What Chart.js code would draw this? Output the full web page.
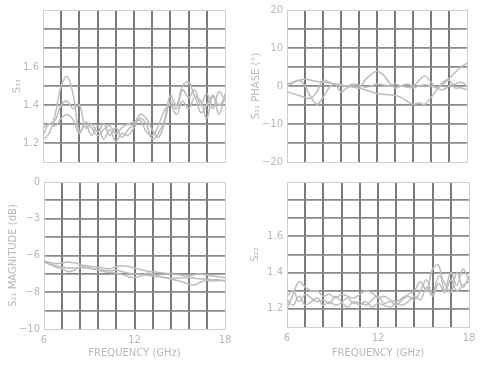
<!DOCTYPE html>
<html>
<head>
<meta charset="utf-8">
<script src="https://cdn.jsdelivr.net/npm/chart.js@4"></script>
<style>
  body { margin: 0; background: #fff; }
  #wrap { position: relative; width: 487px; height: 365px; }
  canvas { position: absolute; }
</style>
</head>
<body>
<div id="wrap">
  <canvas id="s11" width="240" height="172" style="left:0;top:0"></canvas>
  <canvas id="phase" width="244" height="172" style="left:243px;top:0"></canvas>
  <canvas id="mag" width="240" height="193" style="left:0;top:172px"></canvas>
  <canvas id="s22" width="244" height="193" style="left:243px;top:172px"></canvas>
</div>
<script>
// frequency points (GHz)
const freq = [6.0, 6.4, 6.8, 7.2, 7.6, 8.0, 8.4, 8.8, 9.2, 9.6, 10.0, 10.4, 10.8, 11.2, 11.6,
  12.0, 12.4, 12.8, 13.2, 13.6, 14.0, 14.4, 14.8, 15.2, 15.6, 16.0, 16.4, 16.8, 17.2, 17.6, 18.0];

// S11 (VSWR) traces
const s11A = [1.22, 1.25, 1.35, 1.50, 1.55, 1.45, 1.26, 1.30, 1.24, 1.29, 1.22, 1.27, 1.21, 1.25, 1.24,
  1.28, 1.33, 1.30, 1.22, 1.25, 1.32, 1.45, 1.40, 1.50, 1.52, 1.45, 1.42, 1.33, 1.45, 1.40, 1.44];
const s11B = [1.28, 1.30, 1.32, 1.40, 1.42, 1.38, 1.40, 1.28, 1.30, 1.26, 1.30, 1.24, 1.28, 1.23, 1.27,
  1.30, 1.35, 1.33, 1.27, 1.23, 1.30, 1.42, 1.38, 1.48, 1.44, 1.48, 1.40, 1.46, 1.38, 1.47, 1.42];
const s11C = [1.24, 1.30, 1.29, 1.33, 1.35, 1.32, 1.25, 1.31, 1.28, 1.24, 1.27, 1.29, 1.25, 1.28, 1.30,
  1.31, 1.32, 1.26, 1.24, 1.29, 1.37, 1.40, 1.35, 1.42, 1.38, 1.44, 1.36, 1.40, 1.45, 1.35, 1.46];

// S21 phase (deg)
const phA = [0.5, 1.0, 1.5, 1.8, 1.5, 1.2, 1.0, 0.8, 0.5, 0.2, 0, -0.3, -0.5, -1.0, -1.5,
  -2.0, -2.2, -2.3, -2.5, -3.0, -4.0, -4.8, -4.5, -4.8, -3.0, -1.0, 1.0, 2.0, 3.5, 5.0, 6.0];
const phB = [0, 0.8, 1.5, 0, -3.0, -4.8, -3.0, -0.5, 0.5, -1.5, -0.5, 0, -0.5, 1.5, 3.0,
  3.9, 3.0, 1.0, -0.5, 0, 0.5, 0, 1.5, 2.6, 1.0, -0.5, 0.5, 1.5, -0.5, -0.5, -1.0];
const phC = [-1.5, -2.0, -2.5, -3.0, -3.2, -1.5, 1.5, 1.0, 0.5, 0.3, 0, 0.5, 0.2, -0.3, 0,
  0.5, 0.3, 0, 0.5, 0, -0.3, -0.5, 0, 0.3, 0, -0.5, -1.0, 0, 0.5, 1.0, 0];

// S21 magnitude (dB)
const magA = [-5.35, -5.5, -5.55, -5.5, -5.45, -5.5, -5.6, -5.7, -5.75, -5.8, -5.85, -5.9, -5.75, -5.7, -5.75,
  -5.85, -5.95, -6.05, -6.1, -6.15, -6.2, -6.25, -6.3, -6.35, -6.4, -6.3, -6.25, -6.35, -6.4, -6.45, -6.5];
const magB = [-5.4, -5.6, -5.8, -5.9, -6.1, -6.0, -5.75, -5.8, -5.9, -6.0, -6.1, -6.15, -6.2, -6.3, -6.45,
  -6.5, -6.4, -6.2, -6.25, -6.4, -6.5, -6.6, -6.7, -6.8, -6.95, -7.0, -6.8, -6.7, -6.75, -6.7, -6.75];
const magC = [-5.45, -5.6, -5.7, -5.8, -5.85, -5.85, -5.8, -5.85, -5.9, -5.95, -6.0, -6.05, -6.0, -6.1, -6.2,
  -6.25, -6.3, -6.35, -6.4, -6.45, -6.5, -6.55, -6.55, -6.5, -6.5, -6.55, -6.6, -6.6, -6.65, -6.65, -6.7];

// S22 (VSWR)
const s22A = [1.20, 1.28, 1.35, 1.32, 1.30, 1.30, 1.27, 1.28, 1.26, 1.28, 1.27, 1.26, 1.28, 1.30, 1.29,
  1.26, 1.27, 1.25, 1.24, 1.26, 1.28, 1.30, 1.35, 1.30, 1.42, 1.44, 1.30, 1.40, 1.33, 1.42, 1.36];
const s22B = [1.27, 1.30, 1.24, 1.28, 1.26, 1.24, 1.25, 1.23, 1.27, 1.24, 1.26, 1.23, 1.24, 1.22, 1.25,
  1.27, 1.23, 1.24, 1.22, 1.25, 1.27, 1.25, 1.30, 1.36, 1.28, 1.38, 1.34, 1.29, 1.40, 1.32, 1.38];
const s22C = [1.25, 1.22, 1.27, 1.22, 1.24, 1.26, 1.22, 1.24, 1.22, 1.23, 1.21, 1.24, 1.22, 1.24, 1.21,
  1.23, 1.22, 1.21, 1.23, 1.22, 1.24, 1.27, 1.25, 1.32, 1.27, 1.34, 1.29, 1.36, 1.30, 1.33, 1.35];

// tick labels
const xTickVals = [6, 12, 18];
const xTickText = ["6", "12", "18"];
const vswrTickVals = [1.6, 1.4, 1.2];
const vswrTickText = ["1.6", "1.4", "1.2"];
const phTickVals = [20, 10, 0, -10, -20];
const phTickText = ["20", "10", "0", "\u221210", "\u221220"];
const magTickVals = [0, -2.5, -5, -7.5, -10];
const magTickText = ["0", "\u22123", "\u22126", "\u22128", "\u221210"];

const TXT = "#b8b8b8";
const FONT = { family: "DejaVu Sans", size: 10 };

function lookup(vals, texts) {
  return (v) => {
    const i = vals.findIndex((t) => Math.abs(t - v) < 1e-6);
    return i >= 0 ? texts[i] : "";
  };
}

function gridOpts(n, color, width) {
  return {
    color: (c) => (c.index === 0 || c.index === n) ? "#d0d0d0" : color,
    lineWidth: (c) => (c.index === 0 || c.index === n) ? 1 : width,
    drawTicks: false,
  };
}

function makeChart(id, series, cfg) {
  const datasets = series.map((s) => ({
    data: freq.map((f, i) => ({ x: f, y: s[i] })),
    borderColor: "#bdbdbd",
    borderWidth: 1.5,
    pointRadius: 0,
    tension: 0.4,
    fill: false,
  }));
  new Chart(document.getElementById(id), {
    type: "line",
    data: { datasets },
    options: {
      responsive: false,
      animation: false,
      events: [],
      layout: { padding: { top: cfg.top, right: cfg.right, left: 0, bottom: 0 } },
      plugins: { legend: { display: false }, tooltip: { enabled: false } },
      scales: {
        x: {
          type: "linear",
          min: 6,
          max: 18,
          afterBuildTicks: (s) => {
            s.ticks = Array.from({ length: 11 }, (_, i) => ({ value: 6 + i * 1.2 }));
          },
          afterFit: (s) => { s.height = cfg.xh; },
          grid: gridOpts(10, "#7a7a7a", 2),
          border: { display: true, color: "#d0d0d0", width: 1 },
          ticks: {
            display: cfg.xLabels,
            padding: 5,
            maxRotation: 0,
            autoSkip: false,
            color: TXT,
            font: FONT,
            callback: lookup(xTickVals, xTickText),
          },
          title: {
            display: cfg.xLabels,
            text: "FREQUENCY (GHz)",
            color: TXT,
            font: FONT,
            padding: { top: 0, bottom: 6 },
          },
        },
        y: {
          type: "linear",
          min: cfg.min,
          max: cfg.max,
          afterBuildTicks: (s) => {
            s.ticks = Array.from({ length: 9 }, (_, i) => ({ value: cfg.min + i * (cfg.max - cfg.min) / 8 }));
          },
          afterFit: (s) => { s.width = cfg.left; },
          grid: gridOpts(8, "#8a8a8a", 1.8),
          border: { display: true, color: "#d0d0d0", width: 1 },
          ticks: {
            padding: 4,
            autoSkip: false,
            color: TXT,
            font: FONT,
            callback: lookup(cfg.tickVals, cfg.tickText),
          },
          title: {
            display: true,
            text: cfg.title,
            color: TXT,
            font: FONT,
            padding: { top: cfg.titlePad, bottom: 0 },
          },
        },
      },
    },
  });
}

makeChart("s11", [s11A, s11B, s11C], {
  top: 9, right: 15, left: 43, xh: 9, xLabels: false,
  min: 1.1, max: 1.9, tickVals: vswrTickVals, tickText: vswrTickText,
  title: "S\u2081\u2081", titlePad: 11,
});
makeChart("phase", [phA, phB, phC], {
  top: 10, right: 20, left: 44, xh: 9, xLabels: false,
  min: -20, max: 20, tickVals: phTickVals, tickText: phTickText,
  title: "S\u2082\u2081 PHASE (\u00b0)", titlePad: 7,
});
makeChart("mag", [magA, magB, magC], {
  top: 5, right: 15, left: 44, xh: 36, xLabels: true,
  min: -10, max: 0, tickVals: magTickVals, tickText: magTickText,
  title: "S\u2082\u2081 MAGNITUDE (dB)", titlePad: 7,
});
makeChart("s22", [s22A, s22B, s22C], {
  top: 5, right: 18, left: 44, xh: 38, xLabels: true,
  min: 1.1, max: 1.9, tickVals: vswrTickVals, tickText: vswrTickText,
  title: "S\u2082\u2082", titlePad: 6,
});
</script>
</body>
</html>
